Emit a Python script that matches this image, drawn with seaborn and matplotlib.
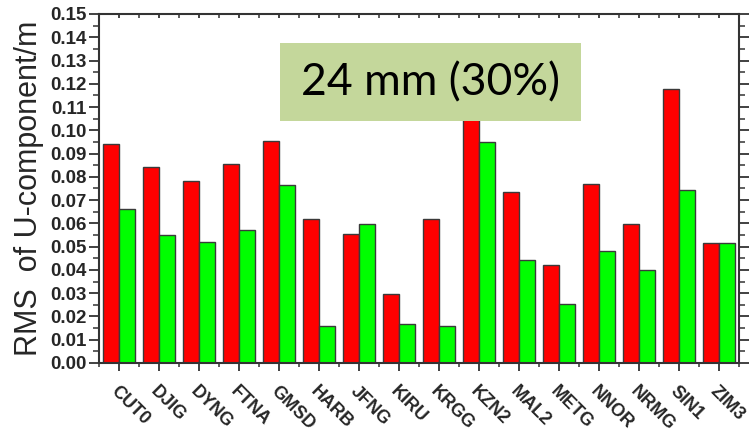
import numpy as np
import pandas as pd
import matplotlib
matplotlib.use("Agg")
import matplotlib.pyplot as plt
import seaborn as sns
from matplotlib.patches import Rectangle
from matplotlib.ticker import MultipleLocator, FixedLocator

stations = ["CUT0", "DJIG", "DYNG", "FTNA", "GMSD", "HARB", "JFNG", "KIRU",
            "KRGG", "KZN2", "MAL2", "METG", "NNOR", "NRMG", "SIN1", "ZIM3"]
rms_before = [0.0940, 0.0844, 0.0781, 0.0854, 0.0955, 0.0617, 0.0554, 0.0298,
              0.0620, 0.1070, 0.0735, 0.0423, 0.0771, 0.0599, 0.1177, 0.0516]
rms_after = [0.0663, 0.0549, 0.0519, 0.0570, 0.0766, 0.0158, 0.0597, 0.0168,
             0.0160, 0.0948, 0.0441, 0.0254, 0.0483, 0.0401, 0.0742, 0.0516]
series = ["Before", "After"]
colors = ["#FF0000", "#00FF00"]
note = "24 mm (30%)"

df = pd.DataFrame({
    "station": stations * 2,
    "rms": rms_before + rms_after,
    "series": [series[0]] * len(stations) + [series[1]] * len(stations),
})

sns.set_style("ticks")
plt.rcParams["font.family"] = ["Liberation Sans", "DejaVu Sans"]

fig = plt.figure(figsize=(7.5, 4.33), dpi=100)
ax = fig.add_axes([0.132, 0.1617, 0.8533, 0.806])

sns.barplot(data=df, x="station", y="rms", hue="series", order=stations,
            hue_order=series, palette=colors, width=0.82, saturation=1,
            edgecolor="#3a3a3a", linewidth=1.0, legend=False, ax=ax)

ax.set_xlim(-0.5, len(stations) - 0.5)
ax.set_ylim(0, 0.15)

# y axis: labelled ticks every 0.01, minor every 0.005, mirrored on the right
ax.yaxis.set_minor_locator(MultipleLocator(0.005))
yt = np.round(np.arange(0, 0.1501, 0.01), 2)
ax.set_yticks(yt)
ax.set_yticklabels([f"{v:.2f}" for v in yt], fontsize=13.5, fontweight="bold")

# x axis: ticks at group centres, minor ticks on group boundaries
ax.xaxis.set_minor_locator(FixedLocator(np.arange(-0.5, len(stations), 1.0)))
ax.set_xticks(range(len(stations)))
ax.set_xticklabels(stations, rotation=-45, ha="left", va="top",
                   rotation_mode="anchor", fontsize=13, fontweight="bold")

ax.tick_params(axis="y", which="major", direction="out", length=7, width=1.3,
               color="#333333", pad=2, right=True)
ax.tick_params(axis="y", which="minor", direction="out", length=4, width=1.1,
               color="#333333", right=True)
ax.tick_params(axis="x", which="major", direction="out", length=6, width=1.3,
               color="#333333", pad=8, top=True)
ax.tick_params(axis="x", which="minor", direction="out", length=3, width=1.1,
               color="#333333", top=True)
# top ticks point inward
for t in ax.xaxis.get_major_ticks() + ax.xaxis.get_minor_ticks():
    t.tick2line.set_marker(3)
    t.tick2line.set_markersize(3)

for s in ax.spines.values():
    s.set_visible(True)
    s.set_linewidth(1.5)
    s.set_color("#333333")

ax.set_xlabel("")
ax.set_ylabel("RMS  of U-component/m", fontsize=22, labelpad=4)

# annotation box
ax.add_patch(Rectangle((0.2823, 0.694), 0.4703, 0.2226, transform=ax.transAxes,
                       facecolor="#C4D79B", edgecolor="none", zorder=5))
ax.text(0.5175, 0.803, note, transform=ax.transAxes, ha="center", va="center",
        fontsize=32, family=["Lato", "DejaVu Sans"], color="black", zorder=6)

fig.savefig("out.png", dpi=100)
